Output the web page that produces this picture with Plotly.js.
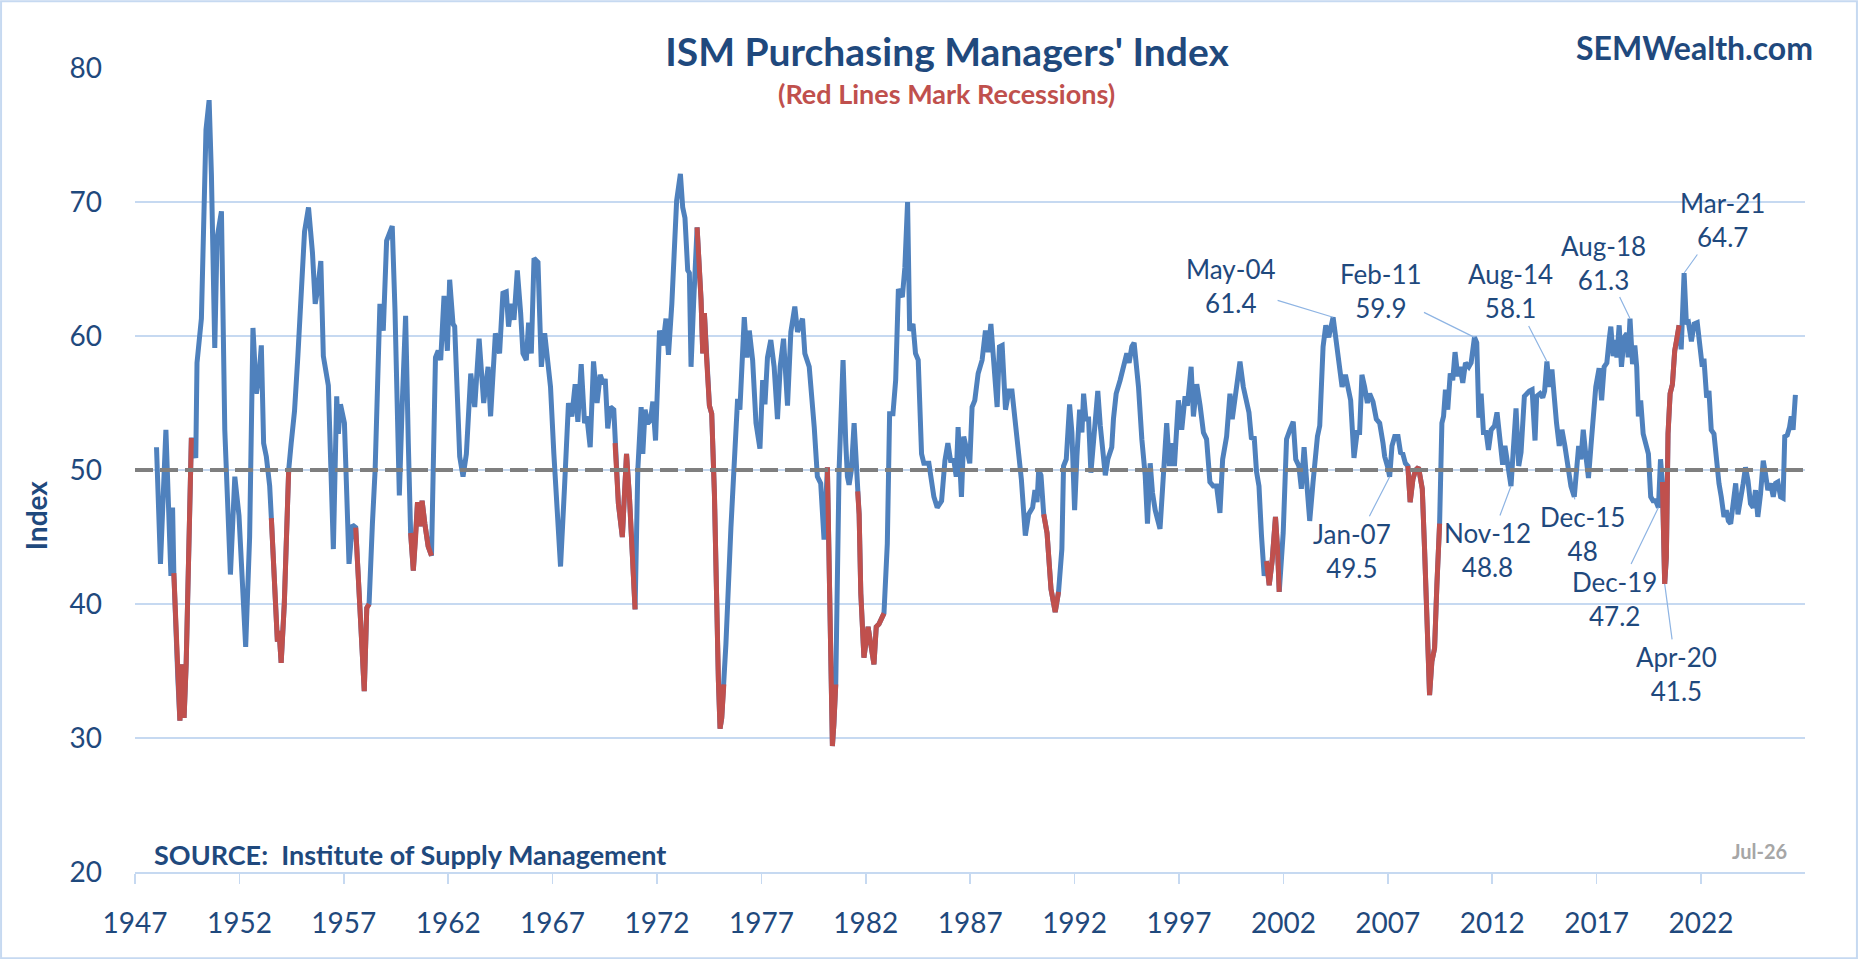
<!DOCTYPE html>
<html>
<head>
<meta charset="utf-8">
<script src="https://cdn.plot.ly/plotly-3.0.1.min.js"></script>
<style>
html,body{margin:0;padding:0;background:#ffffff;}
#chart{width:1858px;height:959px;}
</style>
</head>
<body>
<div id="chart"></div>
<script>
// ---- Data (decimal year, ISM PMI) ----
const dates = [
1948.03,1948.22,1948.48,1948.72,1948.80,1948.86,1949.05,1949.15,1949.25,1949.35,
1949.45,1949.58,1949.70,1949.91,1949.97,1950.18,1950.40,1950.55,1950.66,1950.82,
1950.93,1951.14,1951.30,1951.57,1951.78,1951.98,1952.14,1952.30,1952.49,1952.65,
1952.81,1952.94,1953.05,1953.16,1953.29,1953.45,1953.53,1953.70,1953.82,1953.90,
1954.00,1954.15,1954.28,1954.36,1954.48,1954.64,1954.80,1954.96,1955.12,1955.31,
1955.50,1955.63,1955.75,1955.90,1956.02,1956.26,1956.50,1956.66,1956.74,1956.84,
1957.03,1957.25,1957.41,1957.57,1957.75,1957.89,1957.98,1958.10,1958.21,1958.37,
1958.50,1958.73,1958.89,1959.05,1959.32,1959.45,1959.66,1959.80,1959.96,1960.09,
1960.20,1960.33,1960.44,1960.53,1960.65,1960.75,1960.88,1961.04,1961.20,1961.39,
1961.52,1961.64,1961.80,1961.96,1962.07,1962.23,1962.31,1962.55,1962.71,1962.87,
1963.08,1963.27,1963.48,1963.70,1963.91,1964.03,1964.26,1964.46,1964.62,1964.78,
1964.89,1965.02,1965.15,1965.31,1965.47,1965.58,1965.74,1965.85,1965.98,1966.11,
1966.30,1966.46,1966.62,1966.74,1966.90,1967.06,1967.17,1967.38,1967.57,1967.76,
1967.92,1968.08,1968.21,1968.37,1968.53,1968.64,1968.80,1968.96,1969.13,1969.28,
1969.44,1969.52,1969.64,1969.77,1969.93,1969.99,1970.15,1970.34,1970.54,1970.68,
1970.79,1970.95,1971.08,1971.24,1971.32,1971.43,1971.56,1971.69,1971.80,1971.93,
1972.12,1972.28,1972.43,1972.55,1972.71,1972.83,1972.94,1973.12,1973.23,1973.34,
1973.47,1973.55,1973.63,1973.76,1973.92,1974.11,1974.19,1974.27,1974.38,1974.51,
1974.62,1974.75,1974.94,1975.02,1975.10,1975.20,1975.30,1975.54,1975.70,1975.86,
1975.97,1976.18,1976.31,1976.42,1976.58,1976.74,1976.93,1977.06,1977.17,1977.29,
1977.45,1977.61,1977.77,1977.90,1978.06,1978.25,1978.41,1978.60,1978.73,1978.97,
1979.08,1979.29,1979.53,1979.68,1979.84,1980.00,1980.16,1980.25,1980.33,1980.40,
1980.47,1980.56,1980.72,1980.91,1981.04,1981.12,1981.20,1981.31,1981.44,1981.55,
1981.61,1981.68,1981.76,1981.91,1982.11,1982.23,1982.39,1982.50,1982.63,1982.87,
1983.03,1983.14,1983.30,1983.43,1983.56,1983.75,1983.87,1984.00,1984.10,1984.26,
1984.38,1984.51,1984.67,1984.78,1985.02,1985.26,1985.42,1985.63,1985.79,1985.93,
1986.06,1986.22,1986.33,1986.42,1986.58,1986.69,1986.85,1986.98,1987.09,1987.22,
1987.38,1987.57,1987.73,1987.86,1987.99,1988.13,1988.29,1988.40,1988.53,1988.69,
1988.85,1989.00,1989.13,1989.28,1989.45,1989.64,1989.80,1989.99,1990.10,1990.20,
1990.28,1990.39,1990.52,1990.68,1990.87,1991.07,1991.23,1991.39,1991.47,1991.60,
1991.76,1991.87,1992.00,1992.11,1992.24,1992.35,1992.43,1992.54,1992.67,1992.78,
1992.91,1993.11,1993.23,1993.34,1993.47,1993.59,1993.78,1993.86,1993.99,1994.18,
1994.34,1994.50,1994.61,1994.74,1994.85,1994.98,1995.06,1995.22,1995.38,1995.49,
1995.62,1995.73,1995.86,1996.09,1996.25,1996.41,1996.54,1996.65,1996.78,1996.97,
1997.13,1997.29,1997.40,1997.58,1997.69,1997.85,1998.01,1998.17,1998.32,1998.48,
1998.64,1998.80,1998.96,1999.09,1999.28,1999.44,1999.55,1999.68,1999.81,1999.92,
2000.08,2000.24,2000.35,2000.47,2000.60,2000.71,2000.83,2000.95,2001.08,2001.19,
2001.32,2001.46,2001.62,2001.72,2001.80,2001.99,2002.15,2002.31,2002.47,2002.59,
2002.74,2002.86,2002.99,2003.14,2003.26,2003.42,2003.63,2003.74,2003.90,2004.03,
2004.17,2004.38,2004.54,2004.70,2004.81,2004.97,2005.10,2005.22,2005.38,2005.53,
2005.65,2005.76,2005.89,2006.02,2006.13,2006.29,2006.45,2006.61,2006.77,2006.85,
2006.98,2007.09,2007.20,2007.33,2007.49,2007.61,2007.72,2007.84,2007.96,2008.07,
2008.20,2008.33,2008.47,2008.65,2008.76,2008.87,2009.00,2009.11,2009.24,2009.35,
2009.48,2009.59,2009.67,2009.76,2009.87,2009.99,2010.11,2010.22,2010.35,2010.46,
2010.59,2010.72,2010.88,2010.99,2011.15,2011.26,2011.36,2011.47,2011.58,2011.71,
2011.82,2011.95,2012.11,2012.23,2012.38,2012.50,2012.61,2012.74,2012.90,2013.01,
2013.14,2013.27,2013.38,2013.54,2013.65,2013.78,2013.91,2014.05,2014.13,2014.29,
2014.42,2014.51,2014.62,2014.73,2014.86,2014.97,2015.08,2015.21,2015.34,2015.48,
2015.61,2015.77,2015.93,2016.04,2016.14,2016.25,2016.36,2016.49,2016.61,2016.73,
2016.84,2016.96,2017.12,2017.24,2017.36,2017.49,2017.60,2017.68,2017.79,2017.88,
2017.97,2018.08,2018.19,2018.32,2018.45,2018.51,2018.60,2018.72,2018.83,2018.92,
2019.00,2019.11,2019.23,2019.35,2019.48,2019.59,2019.70,2019.83,2019.96,2020.06,
2020.15,2020.26,2020.34,2020.42,2020.52,2020.63,2020.74,2020.84,2020.95,2021.05,
2021.19,2021.30,2021.40,2021.54,2021.67,2021.82,2021.95,2022.06,2022.14,2022.27,
2022.38,2022.49,2022.62,2022.73,2022.86,2022.97,2023.10,2023.21,2023.31,2023.42,
2023.54,2023.66,2023.77,2023.90,2024.02,2024.13,2024.25,2024.37,2024.50,2024.61,
2024.72,2024.85,2024.98,2025.09,2025.20,2025.33,2025.46,2025.57,2025.68,2025.81,
2025.93,2026.01,2026.13,2026.24,2026.32,2026.41,2026.52
];

const pmi = [
51.7,43.0,53.0,42.1,47.2,42.3,34.5,31.3,35.5,31.5,
35.5,44.0,52.4,50.9,58.0,61.3,75.4,77.6,72.0,59.1,
67.3,69.3,53.0,42.2,49.5,46.6,42.0,36.8,45.0,60.6,
55.7,57.0,59.3,52.0,51.0,48.8,46.4,41.0,37.2,38.0,
35.6,40.0,47.0,50.0,52.0,54.4,58.5,63.8,67.8,69.6,
66.2,62.4,63.5,65.6,58.5,56.3,44.1,55.5,52.7,54.9,
53.5,43.0,45.9,45.7,40.8,37.0,33.5,39.7,40.0,46.0,
50.0,62.4,60.4,67.1,68.2,62.0,48.1,55.0,61.5,52.0,
45.3,42.5,45.0,47.6,45.8,47.7,46.0,44.3,43.6,58.4,
58.9,58.2,63.0,58.9,64.2,60.9,60.7,51.0,49.5,51.2,
57.2,54.7,59.8,55.0,57.7,54.0,60.2,58.7,63.2,63.3,
60.7,62.4,61.2,64.9,61.7,58.7,58.2,61.0,58.7,65.8,
65.5,57.7,60.2,58.4,56.2,51.2,48.2,42.8,48.7,55.0,
54.0,56.4,53.6,57.9,53.5,54.0,51.7,58.1,55.0,57.1,
56.4,56.8,53.1,54.7,54.5,52.0,47.5,45.0,51.2,48.0,
43.8,39.6,50.0,54.7,51.2,54.5,53.5,53.7,55.1,52.2,
60.4,59.3,61.3,58.6,62.4,66.1,70.1,72.1,69.6,68.8,
64.9,64.7,57.7,62.7,68.1,62.7,58.7,61.7,58.2,54.8,
54.2,48.2,34.3,30.7,31.5,34.0,37.0,45.7,50.7,55.3,
54.5,61.4,58.4,60.4,58.2,53.5,51.6,56.7,54.9,58.4,
59.7,57.7,53.8,57.7,59.8,54.8,60.3,62.2,60.3,61.3,
58.7,57.7,53.2,49.5,49.0,44.8,50.2,42.0,35.0,29.4,
31.0,34.0,50.0,58.2,52.0,49.5,48.9,50.0,53.5,50.7,
48.4,46.7,40.8,36.0,38.3,36.8,35.5,38.3,38.5,39.3,
44.5,54.2,54.2,56.7,63.5,62.9,65.1,70.0,60.4,60.9,
58.7,58.2,51.2,50.5,50.5,48.0,47.2,47.7,50.7,52.0,
50.7,50.7,49.5,53.2,48.0,52.5,51.5,50.5,54.7,55.2,
57.2,58.2,60.4,58.8,60.9,57.7,54.7,59.2,59.3,54.5,
55.9,55.9,54.0,51.5,49.3,45.1,46.7,47.2,48.5,47.6,
50.0,49.6,46.7,45.3,41.1,39.4,40.9,44.1,50.3,50.8,
54.9,52.8,47.0,51.0,54.5,52.8,55.7,53.8,53.8,49.8,
52.3,55.9,53.3,51.3,49.6,50.8,51.7,53.8,55.7,56.7,
57.7,58.7,58.0,59.2,59.5,57.2,56.2,52.3,49.6,46.0,
50.5,48.3,47.0,45.6,49.1,53.5,50.3,52.0,50.3,55.2,
53.0,55.5,54.8,57.7,54.0,56.4,54.8,52.8,52.3,49.1,
48.8,48.8,46.8,50.8,52.5,55.7,53.8,55.5,57.2,58.1,
56.2,54.8,54.3,52.3,52.5,49.9,48.8,45.1,42.1,43.2,
41.4,43.2,46.5,44.1,40.9,45.3,52.3,53.0,53.6,50.8,
50.3,48.6,51.7,48.6,46.2,49.1,52.5,53.3,59.2,60.8,
59.9,61.4,59.7,57.5,56.2,57.1,56.0,55.2,50.9,52.8,
52.8,57.1,56.2,55.0,55.7,55.1,53.8,53.5,52.0,51.0,
50.3,49.5,51.8,52.5,52.5,51.3,51.2,50.5,50.3,47.6,
49.3,50.0,50.2,48.6,44.1,37.9,33.2,35.7,36.7,41.4,
46.0,53.5,54.0,56.0,54.5,57.2,56.7,58.8,57.0,57.7,
56.5,58.0,57.7,58.0,59.9,59.5,53.9,55.7,52.8,52.8,
51.5,53.0,53.3,54.3,52.5,50.4,51.8,50.3,48.8,51.5,
54.6,50.3,51.3,55.5,55.7,55.9,56.0,52.2,55.5,55.7,
55.4,55.9,58.1,56.2,57.5,54.8,53.5,51.8,53.0,51.8,
50.3,48.8,48.0,49.6,51.8,50.8,53.0,51.0,49.4,51.8,
54.3,56.2,57.6,55.2,57.7,58.0,59.7,60.7,58.5,59.7,
58.4,60.8,57.7,59.9,60.2,58.4,61.3,57.9,59.3,57.7,
54.0,55.2,52.7,52.0,51.2,48.0,47.7,47.7,47.2,50.8,
49.1,41.5,43.5,52.7,55.7,56.4,58.9,59.7,60.8,59.0,
64.7,60.9,61.0,59.6,60.9,61.0,58.9,57.7,58.3,55.4,
55.9,53.0,52.7,50.7,49.0,48.0,46.5,47.0,46.2,46.0,
47.7,49.0,46.7,47.7,49.0,50.2,49.2,47.5,47.2,48.5,
46.5,48.2,50.7,49.7,48.5,49.0,48.0,49.0,49.1,48.0,
47.9,52.5,52.6,53.2,54.0,53.0,55.6
];

// Recession periods drawn in red (start, end as decimal years)
const recessions = [
  [1948.86,1949.70],[1953.53,1954.36],[1957.57,1958.21],[1960.20,1961.20],
  [1969.99,1970.95],[1973.92,1975.20],[1980.16,1980.56],[1981.61,1982.87],
  [1990.52,1991.23],[2001.19,2001.80],[2007.96,2009.48],[2020.15,2020.95]
];

const threshold = 50;
const xTickYears = [1947,1952,1957,1962,1967,1972,1977,1982,1987,1992,1997,2002,2007,2012,2017,2022];
const yTickValues = [20,30,40,50,60,70,80];

// Labelled points
const calloutLabels = ['May-04','Feb-11','Aug-14','Aug-18','Mar-21','Jan-07','Nov-12','Dec-15','Dec-19','Apr-20'];
const calloutDates  = [2004.38,2011.15,2014.62,2018.60,2021.19,2007.09,2012.90,2015.93,2019.96,2020.26];
const calloutValues = [61.4,59.9,58.1,61.3,64.7,49.5,48.8,48,47.2,41.5];

// ---- Layout-only settings (pixel offsets of the callout texts) ----
const calloutOffsets = [[-102,-31],[-93,-46],[-36,-70],[-27,-56],[38,-53],[-38,74],[-24,64],[8,37],[-44,91],[12,90]];

const inRecession = d => recessions.some(r => d >= r[0]-1e-9 && d <= r[1]+1e-9);
const redY = pmi.map((v,i) => inRecession(dates[i]) ? v : null);

const NAVY = '#1F497D';
const FONT = 'Lato, "Liberation Sans", Arial, sans-serif';

const traces = [
  {x: dates, y: pmi, type: 'scatter', mode: 'lines',
   line: {color: '#4F81BD', width: 5}, hoverinfo: 'x+y', showlegend: false},
  {x: dates, y: redY, type: 'scatter', mode: 'lines', connectgaps: false,
   line: {color: '#C0504D', width: 5}, hoverinfo: 'x+y', showlegend: false}
];

const annotations = calloutLabels.map((lab, i) => ({
  x: calloutDates[i], y: calloutValues[i], xref: 'x', yref: 'y',
  text: lab + '<br>' + String(calloutValues[i]),
  showarrow: true, arrowhead: 0, arrowwidth: 1.2, arrowcolor: '#8EB4E3',
  standoff: 0, startstandoff: 0,
  ax: calloutOffsets[i][0], ay: calloutOffsets[i][1],
  font: {family: FONT, size: 26, color: NAVY}
}));

annotations.push(
  {xref:'paper', yref:'paper', x:0.4862, y:0.9685, xanchor:'center', yanchor:'middle', showarrow:false,
   text:'<b>(Red Lines Mark Recessions)</b>', font:{family:FONT, size:27, color:'#C0504D'}},
  {xref:'paper', yref:'paper', x:1.006, y:1.0257, xanchor:'right', yanchor:'middle', showarrow:false,
   text:'<b>SEMWealth.com</b>', font:{family:FONT, size:32, color:NAVY}},
  {xref:'paper', yref:'paper', x:-0.0593, y:0.4437, xanchor:'center', yanchor:'middle', showarrow:false,
   textangle:-90, text:'<b>Index</b>', font:{family:FONT, size:28, color:NAVY}},
  {xref:'paper', yref:'paper', x:0.0100, y:0.0220, xanchor:'left', yanchor:'middle', showarrow:false,
   text:'<b>SOURCE:\u00a0\u00a0Institute of Supply Management</b>', font:{family:FONT, size:27, color:NAVY}},
  {xref:'paper', yref:'paper', x:0.973, y:0.026, xanchor:'center', yanchor:'middle', showarrow:false,
   text:'<b>Jul-26</b>', font:{family:FONT, size:20, color:'#A6A6A6'}}
);

const layout = {
  width: 1858, height: 959, autosize: false,
  paper_bgcolor: '#ffffff', plot_bgcolor: '#ffffff',
  margin: {l: 135, r: 53, t: 68, b: 87, pad: 0},
  title: {text: '<b>ISM Purchasing Managers\' Index</b>', xref: 'container', yref: 'container',
          x: 0.5097, y: 0.9458, xanchor: 'center', yanchor: 'middle',
          font: {family: FONT, size: 39, color: NAVY}},
  xaxis: {range: [1947, 2026.98], tickmode: 'array', tickvals: xTickYears,
          ticktext: xTickYears.map(String), showgrid: false, zeroline: false,
          showline: true, linecolor: '#C6D9F1', linewidth: 1.5,
          ticks: 'outside', ticklen: 10, tickwidth: 1.5, tickcolor: '#C6D9F1',
          ticklabelstandoff: 16,
          tickfont: {family: FONT, size: 28, color: NAVY}, fixedrange: true},
  yaxis: {range: [20, 80], tickmode: 'array', tickvals: yTickValues,
          showgrid: true, gridcolor: '#C6D9F1', gridwidth: 1.5, zeroline: false,
          showline: false, ticks: '', ticklabelstandoff: 32,
          tickfont: {family: FONT, size: 28, color: NAVY}, fixedrange: true},
  shapes: [
    {type: 'line', xref: 'paper', x0: 0, x1: 1, yref: 'y', y0: threshold, y1: threshold,
     layer: 'above', line: {color: '#7F7F7F', width: 4, dash: '18px,7px'}},
    {type: 'rect', xref: 'paper', yref: 'paper', x0: -0.0802, x1: 1.0311, y0: -0.1073, y1: 1.0830,
     layer: 'below', line: {color: '#C6D9F1', width: 2}, fillcolor: 'rgba(0,0,0,0)'}
  ],
  annotations: annotations,
  showlegend: false
};

Plotly.newPlot('chart', traces, layout, {displayModeBar: false, staticPlot: true});
</script>
</body>
</html>
